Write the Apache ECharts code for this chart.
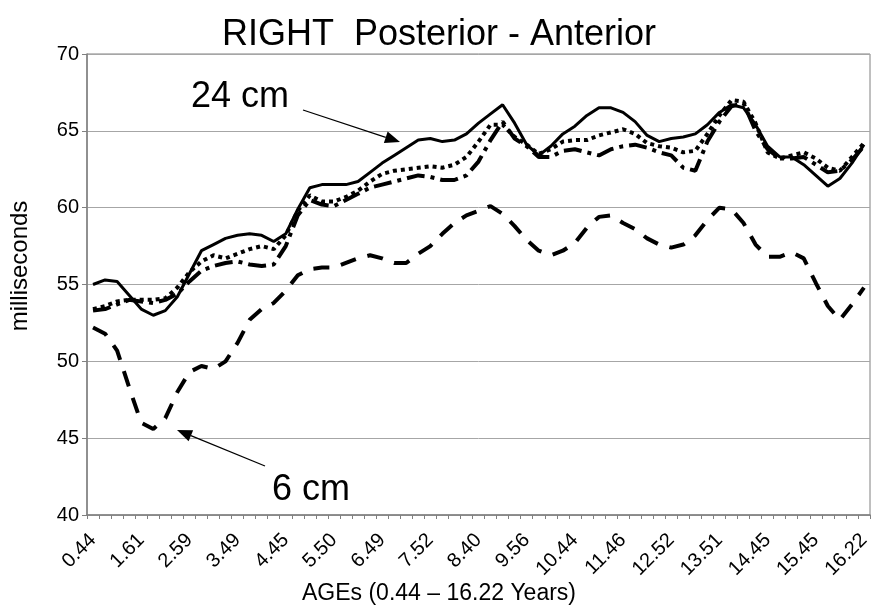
<!DOCTYPE html>
<html><head><meta charset="utf-8">
<script src="https://cdn.jsdelivr.net/npm/echarts@6/dist/echarts.min.js"></script>
<style>html,body{margin:0;padding:0;background:#fff}#c{width:878px;height:610px}</style>
</head><body><div id="c"></div>
<script>
// Tick labels shown on the category axis (every 4th age)
const ageLabels = ['0.44','1.61','2.59','3.49','4.45','5.50','6.49','7.52','8.40','9.56','10.44','11.46','12.52','13.51','14.45','15.45','16.22'];

// Series values (milliseconds), 65 age points each
const cm24 = [55.0,55.3,55.2,54.3,53.4,53.0,53.3,54.2,55.7,57.2,
  57.6,58.0,58.2,58.3,58.2,57.8,58.3,59.9,61.3,61.5,
  61.5,61.5,61.7,62.3,62.9,63.4,63.9,64.4,64.5,64.3,
  64.4,64.8,65.5,66.1,66.7,65.5,64.1,63.4,64.0,64.8,
  65.3,66.0,66.5,66.5,66.2,65.6,64.7,64.3,64.5,64.6,
  64.8,65.4,66.2,66.7,66.5,65.4,64.0,63.3,63.3,62.8,
  62.1,61.4,61.9,62.9,64.1];
const dottedSeries = [53.4,53.6,53.9,54.0,54.0,54.0,54.1,54.8,55.8,56.5,
  56.9,56.7,57.0,57.3,57.5,57.3,58.2,59.8,60.8,60.4,
  60.4,60.7,61.1,61.7,62.2,62.4,62.5,62.6,62.7,62.6,
  62.8,63.3,64.3,65.4,65.4,64.6,64.1,63.5,63.8,64.3,
  64.4,64.4,64.7,64.9,65.1,64.8,64.2,64.0,63.9,63.6,
  63.7,64.8,66.0,67.0,66.9,65.5,63.6,63.2,63.4,63.6,
  63.2,62.6,62.4,63.3,64.2];
const dashDotSeries = [53.3,53.4,53.7,54.0,53.9,53.8,54.0,54.4,55.2,55.9,
  56.2,56.4,56.5,56.3,56.2,56.3,57.5,59.5,60.5,60.2,
  60.1,60.5,60.9,61.3,61.5,61.7,61.9,62.1,62.0,61.8,
  61.8,62.1,63.0,64.4,65.6,64.5,64.0,63.3,63.3,63.7,
  63.8,63.6,63.4,63.8,64.0,64.1,63.9,63.6,63.4,62.6,
  62.4,64.3,65.6,66.6,66.8,65.0,63.8,63.2,63.2,63.3,
  62.8,62.3,62.4,63.1,64.0];
const cm6 = [52.2,51.8,50.7,48.3,46.0,45.6,46.3,48.0,49.3,49.7,
  49.5,50.0,51.2,52.7,53.4,53.8,54.6,55.6,56.0,56.1,
  56.1,56.4,56.7,56.9,56.7,56.4,56.4,57.0,57.5,58.3,
  59.0,59.5,59.8,60.1,59.6,58.8,57.9,57.2,56.9,57.2,
  57.7,58.7,59.4,59.5,59.0,58.6,58.0,57.6,57.4,57.6,
  58.2,59.2,60.0,59.9,59.0,57.6,56.8,56.8,57.1,56.7,
  55.1,53.6,52.7,53.7,54.8];

const categories = cm24.map((_, i) => String(i));
const FONT = '"Liberation Sans", Arial, sans-serif';

function arrow(x1, y1, x2, y2) {
  const a = Math.atan2(y2 - y1, x2 - x1), L = 15, W = 6;
  const bx = x2 - L * Math.cos(a), by = y2 - L * Math.sin(a);
  const px = -Math.sin(a) * W, py = Math.cos(a) * W;
  return [
    { type: 'line', shape: { x1: x1, y1: y1, x2: bx, y2: by }, style: { stroke: '#000', lineWidth: 1.3 }, z: 100 },
    { type: 'polygon', shape: { points: [[x2, y2], [bx + px, by + py], [bx - px, by - py]] }, style: { fill: '#000' }, z: 100 }
  ];
}

const chart = echarts.init(document.getElementById('c'), null, { renderer: 'canvas' });
const common = { type: 'line', symbol: 'none', smooth: false, animation: false, color: '#000' };
chart.setOption({
  animation: false,
  backgroundColor: '#fff',
  title: [
    { text: 'RIGHT  Posterior - Anterior', left: 'center', top: 12,
      textStyle: { fontFamily: FONT, fontSize: 36, fontWeight: 'normal', color: '#000' } },
    { text: 'AGEs (0.44 \u2013 16.22 Years)', left: 'center', bottom: 0,
      textStyle: { fontFamily: FONT, fontSize: 23, fontWeight: 'normal', color: '#000' } }
  ],
  grid: { left: 87, right: 8, top: 54, bottom: 95, show: true, borderColor: '#808080', borderWidth: 1, containLabel: false, outerBoundsMode: 'none' },
  xAxis: {
    type: 'category', data: categories, boundaryGap: true,
    axisLine: { lineStyle: { color: '#808080', width: 1.5 } },
    axisTick: { show: true, interval: 0, length: 4, lineStyle: { color: '#808080' } },
    axisLabel: { interval: 3, rotate: 45, margin: 22, fontFamily: FONT, fontSize: 20, color: '#000',
      formatter: (v, i) => ageLabels[Math.round(i / 4)] },
    splitLine: { show: false }
  },
  yAxis: {
    type: 'value', min: 40, max: 70, interval: 5,
    axisLine: { show: true, lineStyle: { color: '#808080', width: 1.5 } },
    axisTick: { show: true, length: 5, lineStyle: { color: '#808080' } },
    axisLabel: { fontFamily: FONT, fontSize: 20, color: '#000', margin: 8 },
    splitLine: { lineStyle: { color: '#a6a6a6', width: 1 } }
  },
  series: [
    Object.assign({ name: '6 cm', data: cm6, lineStyle: { color: '#000', width: 4, type: [16, 12], cap: 'butt' } }, common),
    Object.assign({ name: 'dash-dot', data: dashDotSeries, lineStyle: { color: '#000', width: 4, type: [18, 6, 4, 6], cap: 'butt' } }, common),
    Object.assign({ name: 'dotted', data: dottedSeries, lineStyle: { color: '#000', width: 4, type: [4, 4], cap: 'butt' } }, common),
    Object.assign({ name: '24 cm', data: cm24, lineStyle: { color: '#000', width: 3 } }, common)
  ],
  graphic: [
    { type: 'text', x: 20, y: 266, rotation: Math.PI / 2,
      style: { text: 'milliseconds', fontFamily: FONT, fontSize: 24, fill: '#000', align: 'center', verticalAlign: 'middle' } },
    { type: 'text', x: 191, y: 97, z: 100,
      style: { text: '24 cm', fontFamily: FONT, fontSize: 36, fill: '#000', align: 'left', verticalAlign: 'middle' } },
    { type: 'text', x: 272, y: 490, z: 100,
      style: { text: '6 cm', fontFamily: FONT, fontSize: 36, fill: '#000', align: 'left', verticalAlign: 'middle' } }
  ].concat(arrow(303, 110, 400, 142)).concat(arrow(265, 466, 177, 430))
});
</script>
</body></html>
